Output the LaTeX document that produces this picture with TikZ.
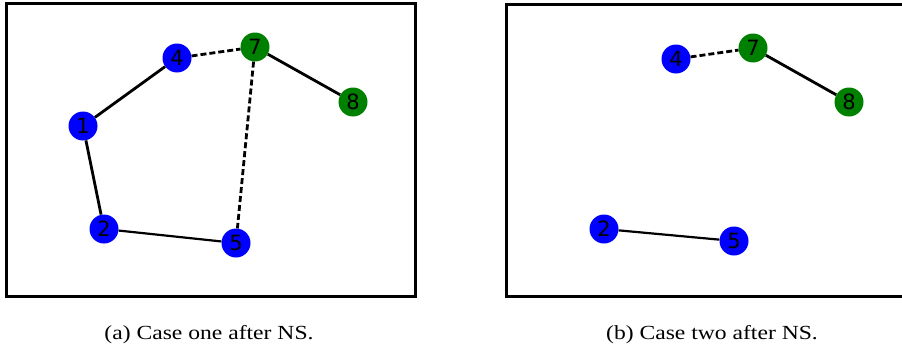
\documentclass[tikz,border=0pt]{standalone}
\usepackage{fontspec}
\setmainfont{Liberation Serif}
\newfontfamily\numfont{DejaVu Sans}
\tikzset{
  vtx/.style={circle,inner sep=0pt,minimum size=29pt,font=\numfont\fontsize{21}{21}\selectfont},
  bl/.style={vtx,fill=blue},
  gr/.style={vtx,fill=green!50!black},
  edge/.style={line width=2.8pt},
  nsedge/.style={line width=2.8pt,dash pattern=on 6pt off 3pt},
  frame/.style={line width=3pt},
  caption/.style={anchor=base,font=\fontsize{20}{24}\selectfont}
}
\begin{document}
\begin{tikzpicture}[x=1pt,y=-1pt]
\clip (0,0) rectangle (902,348);
% case one
\draw[frame] (6,3) rectangle (415,296);
\foreach \n/\c/\x/\y in {1/bl/83/126,2/bl/104/229,4/bl/177/58,5/bl/236/243,7/gr/255/47,8/gr/353/102}
  \node[\c] (a\n) at (\x,\y) {\n};
\draw[edge] (a2) -- (a1) -- (a4);
\draw[edge,line width=2.2pt] (a2) -- (a5);
\draw[edge] (a7) -- (a8);
\draw[nsedge] (a4) -- (a7) -- (a5);
\node[caption] (capa) at (209,339) {\scalebox{1.18}[1]{(a) Case one after NS.}};
% case two
\draw[frame] (506,4) rectangle (912,296);
\foreach \n/\c/\x/\y in {2/bl/604/229,4/bl/676/59,5/bl/734/241,7/gr/753/48,8/gr/849/102}
  \node[\c] (b\n) at (\x,\y) {\n};
\draw[edge,line width=2.2pt] (b2) -- (b5);
\draw[edge] (b7) -- (b8);
\draw[nsedge] (b4) -- (b7);
\node[caption] (capb) at (712,339) {\scalebox{1.18}[1]{(b) Case two after NS.}};
\end{tikzpicture}
\end{document}
